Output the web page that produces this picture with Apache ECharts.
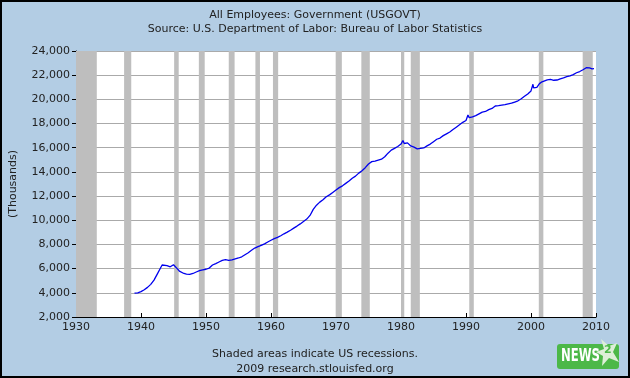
<!DOCTYPE html>
<html>
<head>
<meta charset="utf-8">
<script src="https://cdn.jsdelivr.net/npm/echarts@6/dist/echarts.min.js"></script>
<style>
html,body{margin:0;padding:0;background:#B3CDE4;}
#chart{width:630px;height:378px;}
</style>
</head>
<body>
<div id="chart"></div>
<script>
// Data (thousands of employees)
var years = [1939.0,1939.5,1940.0,1940.5,1941.0,1941.5,1942.0,1942.5,1943.0,1943.25,1943.5,1944.0,1944.5,1945.0,1945.3,1945.6,1945.9,1946.2,1946.6,1947.0,1947.5,1948.0,1948.5,1949.0,1949.5,1950.0,1950.5,1951.0,1951.5,1952.0,1952.5,1953.0,1953.5,1954.0,1954.5,1955.0,1955.5,1956.0,1956.5,1957.0,1957.5,1958.0,1958.5,1959.0,1959.5,1960.0,1960.5,1961.0,1961.5,1962.0,1962.5,1963.0,1963.5,1964.0,1964.5,1965.0,1965.5,1966.0,1966.5,1967.0,1967.5,1968.0,1968.5,1969.0,1969.5,1970.0,1970.5,1971.0,1971.5,1972.0,1972.5,1973.0,1973.5,1974.0,1974.5,1975.0,1975.5,1976.0,1976.5,1977.0,1977.5,1978.0,1978.5,1979.0,1979.5,1980.0,1980.3,1980.5,1981.0,1981.5,1982.0,1982.5,1983.0,1983.5,1984.0,1984.5,1985.0,1985.5,1986.0,1986.5,1987.0,1987.5,1988.0,1988.5,1989.0,1989.5,1990.0,1990.3,1990.5,1991.0,1991.5,1992.0,1992.5,1993.0,1993.5,1994.0,1994.5,1995.0,1995.5,1996.0,1996.5,1997.0,1997.5,1998.0,1998.5,1999.0,1999.5,2000.0,2000.3,2000.4,2000.6,2000.9,2001.3,2001.7,2002.0,2002.5,2003.0,2003.5,2004.0,2004.5,2005.0,2005.5,2006.0,2006.5,2007.0,2007.5,2008.0,2008.5,2009.0,2009.4,2009.7];
var employees = [3970,4000,4100,4250,4450,4700,5050,5550,6050,6300,6180,6250,6150,6320,6180,5980,5800,5650,5600,5550,5520,5600,5720,5830,5900,5950,6050,6300,6420,6550,6680,6750,6680,6720,6800,6880,6980,7150,7320,7520,7700,7820,7920,8050,8200,8350,8480,8580,8720,8880,9020,9180,9350,9520,9700,9900,10100,10400,10900,11250,11500,11700,11950,12100,12300,12500,12700,12850,13050,13250,13480,13650,13900,14100,14350,14650,14850,14900,14980,15050,15250,15550,15800,15950,16100,16300,16600,16350,16400,16150,16050,15900,15950,15980,16150,16300,16500,16700,16800,17000,17150,17300,17500,17700,17900,18100,18250,18700,18480,18550,18650,18800,18950,19000,19150,19250,19450,19480,19520,19560,19620,19680,19780,19880,20050,20250,20450,20700,21250,20950,20850,21000,21300,21450,21550,21620,21650,21580,21600,21700,21780,21880,21950,22050,22200,22300,22450,22620,22600,22520,22540];
var recessionStarts = [1930.0,1937.4,1945.1,1948.9,1953.5,1957.6,1960.3,1969.95,1973.9,1980.0,1981.5,1990.5,2001.2,2007.95];
var recessionEnds   = [1933.2,1938.5,1945.8,1949.8,1954.4,1958.3,1961.1,1970.9,1975.2,1980.5,1982.9,1991.2,2001.9,2009.5];
var yTicks = {min:2000, max:24000, step:2000};
var xTicks = {min:1930, max:2010, step:10};

var lineData = years.map(function(y,i){return [y, employees[i]];});
var areas = recessionStarts.map(function(s,i){return [{xAxis:s},{xAxis:recessionEnds[i]}];});

var chart = echarts.init(document.getElementById('chart'), null, {renderer:'canvas'});
var font = 'DejaVu Sans';
chart.setOption({
  backgroundColor:'#B3CDE4',
  animation:false,
  title:[
    {text:'All Employees: Government (USGOVT)', left:'center', top:5,
     textStyle:{fontFamily:font,fontSize:11,fontWeight:'normal',color:'#222'}},
    {text:'Source: U.S. Department of Labor: Bureau of Labor Statistics', left:'center', top:19,
     textStyle:{fontFamily:font,fontSize:11,fontWeight:'normal',color:'#222'}},
    {text:'Shaded areas indicate US recessions.', left:'center', top:344,
     textStyle:{fontFamily:font,fontSize:11,fontWeight:'normal',color:'#222'}},
    {text:'2009 research.stlouisfed.org', left:'center', top:359,
     textStyle:{fontFamily:font,fontSize:11,fontWeight:'normal',color:'#222'}}
  ],
  grid:{left:73, top:51, right:34, bottom:61, show:true, backgroundColor:'#FFFFFF', borderWidth:0},
  xAxis:{
    type:'value', min:xTicks.min, max:xTicks.max, interval:xTicks.step,
    axisLine:{show:true, onZero:false, lineStyle:{color:'#000',width:1}},
    axisTick:{show:true, inside:true, length:4, lineStyle:{color:'#000'}},
    splitLine:{show:false},
    axisLabel:{fontFamily:font,fontSize:11,color:'#222',margin:5,formatter:function(v){return String(v);}}
  },
  yAxis:{
    type:'value', min:yTicks.min, max:yTicks.max, interval:yTicks.step,
    name:'(Thousands)', nameLocation:'middle', nameGap:57, nameRotate:90,
    nameTextStyle:{fontFamily:font,fontSize:11,color:'#222'},
    axisLine:{show:true, lineStyle:{color:'#000',width:1}},
    axisTick:{show:true, inside:false, length:4, lineStyle:{color:'#000'}},
    splitLine:{show:true, lineStyle:{color:'#AAAAAA',width:1}},
    axisLabel:{fontFamily:font,fontSize:11,color:'#222',margin:6,
      formatter:function(v){return v.toLocaleString('en-US');}}
  },
  series:[{
    type:'line', data:lineData, showSymbol:false, symbol:'none',
    lineStyle:{color:'#0000EE',width:1.3}, z:5,
    markArea:{silent:true, itemStyle:{color:'#BEBEBE',opacity:1}, data:areas}
  }],
  graphic:[
    {type:'rect', shape:{x:1,y:1,width:628,height:376}, style:{fill:'none',stroke:'#000',lineWidth:2}, z:100},
    {type:'rect', shape:{x:557,y:344,width:62,height:25,r:3}, style:{fill:'#4CB848'}, z:50},
    {type:'text', x:561, y:347, scaleX:0.72, style:{text:'NEWS', fill:'#FFFFFF', font:'bold 18px "Liberation Sans Narrow", "DejaVu Sans Condensed", "DejaVu Sans"'}, z:51},
    {type:'polygon', shape:{points:[[601,339],[609,346],[617,343],[613,352],[619,362],[609,358],[602,366],[603,356],[596,352],[604,349]]}, style:{fill:'#DDEFD8'}, z:52},
    {type:'text', x:604, y:345, style:{text:'2', fill:'#4CB848', font:'bold 11px "DejaVu Sans"'}, z:53}
  ]
});
</script>
</body>
</html>
